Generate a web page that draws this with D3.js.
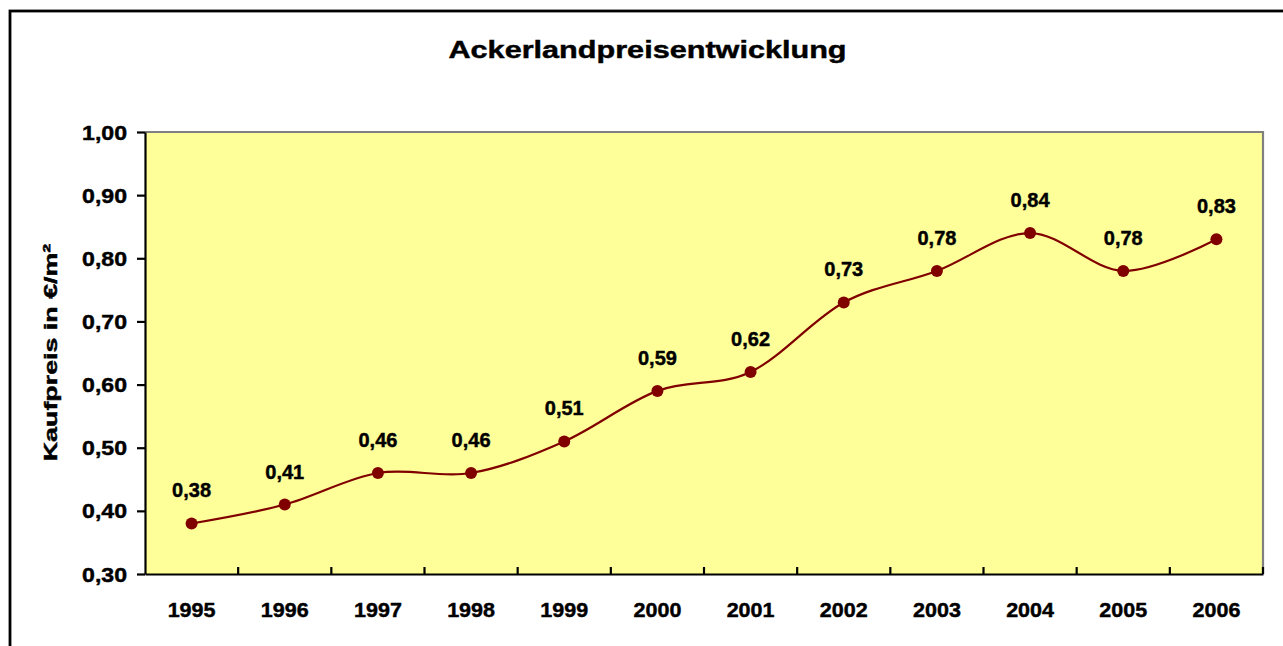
<!doctype html>
<html>
<head>
<meta charset="utf-8">
<title>Ackerlandpreisentwicklung</title>
<script src="https://cdn.jsdelivr.net/npm/d3@7"></script>
<style>
  body { margin: 0; background: #fff; }
  text { font-family: "Liberation Sans", Arial, sans-serif; font-weight: bold; fill: #000; stroke: #000; stroke-width: 0.45px; }
</style>
</head>
<body>
<script>
var years = ['1995','1996','1997','1998','1999','2000','2001','2002','2003','2004','2005','2006'];
var prices = [0.38, 0.41, 0.46, 0.46, 0.51, 0.59, 0.62, 0.73, 0.78, 0.84, 0.78, 0.83];
var yTicks = [0.3, 0.4, 0.5, 0.6, 0.7, 0.8, 0.9, 1.0];
var chartTitle = 'Ackerlandpreisentwicklung';
var yTitle = 'Kaufpreis in €/m²';

var W = 1283, H = 646;
var plot = {left: 145, right: 1263, top: 132, bottom: 574};

var de = d3.formatLocale({decimal: ',', thousands: '.', grouping: [3], currency: ['', ' €']});
var fmt = de.format('.2f');

var svg = d3.select('body').append('svg')
    .attr('width', W)
    .attr('height', H);

// outer frame
svg.append('rect')
    .attr('x', 10).attr('y', 11)
    .attr('width', 1400).attr('height', 800)
    .attr('fill', 'none')
    .attr('stroke', '#000')
    .attr('stroke-width', 2.8);

var x = d3.scaleBand().domain(years).range([plot.left, plot.right]).padding(0);
var y = d3.scaleLinear().domain([0.3, 1.0]).range([plot.bottom, plot.top]);

// plot area
svg.append('rect')
    .attr('x', plot.left).attr('y', plot.top)
    .attr('width', plot.right - plot.left).attr('height', plot.bottom - plot.top)
    .attr('fill', '#ffff99');
svg.append('path')
    .attr('d', 'M' + plot.left + ',' + plot.top + 'H' + plot.right + 'V' + plot.bottom)
    .attr('fill', 'none')
    .attr('stroke', '#808080')
    .attr('stroke-width', 2.2);

// helper for stretched text
function stretched(g, tx, ty, rot, sx, size, anchor, str) {
  return g.append('text')
      .attr('transform', 'translate(' + tx + ',' + ty + ') rotate(' + rot + ') scale(' + sx + ',1)')
      .attr('text-anchor', anchor)
      .style('font-size', size + 'px')
      .text(str);
}

// y axis
var yAxis = svg.append('g')
    .attr('transform', 'translate(' + plot.left + ',0)')
    .call(d3.axisLeft(y).tickValues(yTicks).tickSize(8).tickSizeOuter(0).tickFormat(''));
yAxis.select('.domain').attr('stroke', '#000').attr('stroke-width', 2.2);
yAxis.selectAll('.tick line').attr('stroke', '#000').attr('stroke-width', 2.2);
yTicks.forEach(function(v) {
  stretched(svg, 127, y(v) + 7.5, 0, 1.1, 21, 'end', fmt(v));
});

// x axis
var xAxis = svg.append('g')
    .attr('transform', 'translate(0,' + plot.bottom + ')')
    .call(d3.axisBottom(x).tickSize(0).tickSizeOuter(0).tickFormat(''));
xAxis.select('.domain').attr('stroke', '#000').attr('stroke-width', 2.2);
var bounds = years.map(function(d) { return x(d); }).concat([plot.right]);
svg.append('g').selectAll('line')
    .data(bounds.slice(1))
    .join('line')
    .attr('x1', function(d) { return d; })
    .attr('x2', function(d) { return d; })
    .attr('y1', plot.bottom)
    .attr('y2', plot.bottom - 7)
    .attr('stroke', '#000')
    .attr('stroke-width', 2.2);
years.forEach(function(d) {
  stretched(svg, x(d) + x.bandwidth() / 2, 617, 0, 1.05, 20.5, 'middle', d);
});

// line
var pts = years.map(function(d, i) { return {year: d, v: prices[i]}; });
var line = d3.line()
    .x(function(d) { return x(d.year) + x.bandwidth() / 2; })
    .y(function(d) { return y(d.v); })
    .curve(d3.curveCardinal.tension(0));
svg.append('path')
    .datum(pts)
    .attr('d', line)
    .attr('fill', 'none')
    .attr('stroke', '#800000')
    .attr('stroke-width', 2.2);

svg.append('g').selectAll('circle')
    .data(pts)
    .join('circle')
    .attr('cx', function(d) { return x(d.year) + x.bandwidth() / 2; })
    .attr('cy', function(d) { return y(d.v); })
    .attr('r', 6)
    .attr('fill', '#800000');

pts.forEach(function(d) {
  stretched(svg, x(d.year) + x.bandwidth() / 2, y(d.v) - 26, 0, 1.0, 20, 'middle', fmt(d.v));
});

// titles
stretched(svg, 647.5, 57.5, 0, 1.25, 24.5, 'middle', chartTitle);
stretched(svg, 57, 352.5, -90, 1.45, 18.5, 'middle', yTitle);
</script>
</body>
</html>
